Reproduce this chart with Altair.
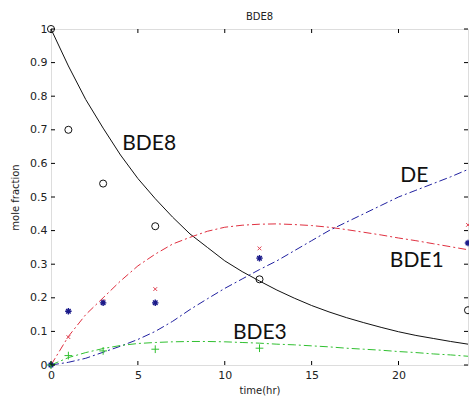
import altair as alt
import pandas as pd

# model curves (at whole hours)
t_curve = list(range(25))
bde8_curve = [1.0, 0.89, 0.79, 0.705, 0.625, 0.555, 0.495, 0.44, 0.39, 0.35, 0.31,
              0.278, 0.25, 0.223, 0.199, 0.177, 0.158, 0.141, 0.126, 0.112, 0.099,
              0.088, 0.079, 0.07, 0.062]
bde1_curve = [0.0, 0.085, 0.15, 0.2, 0.25, 0.295, 0.33, 0.36, 0.38, 0.398, 0.41,
              0.416, 0.419, 0.42, 0.418, 0.415, 0.41, 0.403, 0.395, 0.387, 0.378,
              0.37, 0.361, 0.352, 0.343]
de_curve = [0.0, 0.008, 0.02, 0.038, 0.056, 0.076, 0.1, 0.13, 0.165, 0.197, 0.228,
            0.256, 0.284, 0.31, 0.34, 0.37, 0.4, 0.425, 0.45, 0.475, 0.5,
            0.52, 0.54, 0.56, 0.582]
bde3_curve = [0.0, 0.022, 0.037, 0.049, 0.058, 0.064, 0.067, 0.069, 0.07, 0.07, 0.069,
              0.067, 0.065, 0.062, 0.06, 0.057, 0.054, 0.05, 0.047, 0.044, 0.04,
              0.037, 0.033, 0.03, 0.026]

# measured points
t_obs = [0, 1, 3, 6, 12, 24]
bde8_obs = [1.0, 0.70, 0.54, 0.413, 0.255, 0.163]
bde1_obs = [0.0, 0.083, 0.19, 0.226, 0.347, 0.417]
de_obs = [0.0, 0.16, 0.185, 0.185, 0.318, 0.363]
t_obs3 = [0, 1, 3, 6, 12]
bde3_obs = [0.0, 0.028, 0.042, 0.047, 0.05]

x_ticks = [0, 5, 10, 15, 20]
y_ticks = [0, 0.1, 0.2, 0.3, 0.4, 0.5, 0.6, 0.7, 0.8, 0.9, 1.0]

labels = ["BDE8", "DE", "BDE1", "BDE3"]
label_t = [4.1, 20.1, 19.5, 10.47]
label_y = [0.64, 0.545, 0.292, 0.077]

W, H = 417, 336

xs = alt.Scale(domain=[0, 24], nice=False, zero=False)
ys = alt.Scale(domain=[0, 1], nice=False, zero=False)

curves = pd.DataFrame({"t": t_curve, "BDE8": bde8_curve, "BDE1": bde1_curve,
                       "DE": de_curve, "BDE3": bde3_curve})
obs = pd.DataFrame({"t": t_obs, "BDE8": bde8_obs, "BDE1": bde1_obs, "DE": de_obs})
obs3 = pd.DataFrame({"t": t_obs3, "BDE3": bde3_obs})
lab = pd.DataFrame({"label": labels, "t": label_t, "y": label_y})
xt = pd.DataFrame({"v": x_ticks})
yt = pd.DataFrame({"v": y_ticks})

common_axis = dict(labelOverlap=False, labelFlush=False, titleFontWeight="normal",
                   titleFont="DejaVu Sans", titleFontSize=10, titleColor="#222222",
                   labelFont="DejaVu Sans", labelFontSize=11, labelColor="#222222",
                   labelPadding=4, domain=False, ticks=False, grid=False)

X_axis = alt.Axis(values=x_ticks, title="time(hr)", titlePadding=5, **common_axis)
Y_axis = alt.Axis(values=y_ticks, title="mole fraction", format="~g", titlePadding=9,
                  **common_axis)


def X(field):
    return alt.X(f"{field}:Q", scale=xs, axis=X_axis)


def Y(field):
    return alt.Y(f"{field}:Q", scale=ys, axis=Y_axis)


dash = [8, 3, 2, 3]


def line(col, color, dashed):
    kw = dict(strokeWidth=1, color=color)
    if dashed:
        kw["strokeDash"] = dash
    return alt.Chart(curves).mark_line(**kw).encode(x=X("t"), y=Y(col))


star = "M-1,0L1,0M0,-1L0,1M-0.7,-0.7L0.7,0.7M-0.7,0.7L0.7,-0.7"
cross = "M-1,-1L1,1M-1,1L1,-1"
plus = "M-1,0L1,0M0,-1L0,1"


def pts(df, col, shape, color, size, sw=1):
    return alt.Chart(df).mark_point(shape=shape, filled=False, size=size,
                                    color=color, strokeWidth=sw, opacity=1).encode(
        x=X("t"), y=Y(col))


layers = [
    line("BDE8", "#111111", False),
    line("BDE1", "#e03040", True),
    line("DE", "#2020a0", True),
    line("BDE3", "#30c030", True),
    pts(obs, "BDE8", "circle", "#111111", 50),
    pts(obs, "BDE1", cross, "#e04050", 14),
    pts(obs, "DE", star, "#1a1a8a", 42, 1.4),
    pts(obs3, "BDE3", plus, "#30c030", 60),
    alt.Chart(lab).mark_text(font="Lato", fontSize=21, align="left",
                             baseline="alphabetic", color="#111111").encode(
        x=X("t"), y=Y("y"), text="label:N"),
    # inward ticks (MATLAB style)
    alt.Chart(xt).mark_rule(color="black", strokeWidth=1).encode(
        x=X("v"), y=alt.value(H), y2=alt.value(H - 4)),
    alt.Chart(xt).mark_rule(color="black", strokeWidth=1).encode(
        x=X("v"), y=alt.value(0), y2=alt.value(4)),
    alt.Chart(yt).mark_rule(color="black", strokeWidth=1).encode(
        y=Y("v"), x=alt.value(0), x2=alt.value(4)),
    alt.Chart(yt).mark_rule(color="black", strokeWidth=1).encode(
        y=Y("v"), x=alt.value(W), x2=alt.value(W - 4)),
]

chart = alt.layer(*layers).properties(
    width=W, height=H,
    title=alt.TitleParams("BDE8", font="DejaVu Sans", fontSize=10,
                          fontWeight="normal", color="#222222", offset=6, dy=5),
    autosize=alt.AutoSizeParams(type="none"),
    padding={"left": 51, "top": 29, "right": 1, "bottom": 45},
).configure_view(stroke="black", strokeWidth=1).configure(background="white")

chart.save("out.html", embed_options={"renderer": "svg", "actions": False})
